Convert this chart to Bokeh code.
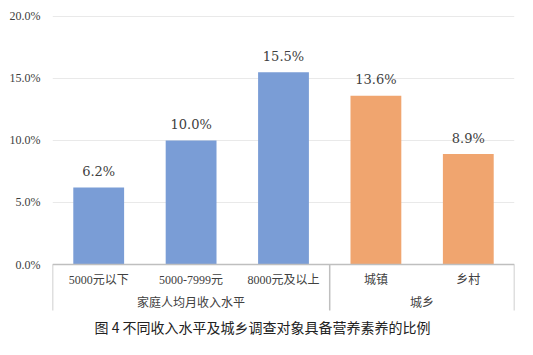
from bokeh.plotting import figure
from bokeh.models import ColumnDataSource, Range1d, FixedTicker, PrintfTickFormatter
from bokeh.core.properties import value
from bokeh.embed import file_html
from bokeh.resources import INLINE

# Data
categories = ["5000元以下", "5000-7999元", "8000元及以上", "城镇", "乡村"]
values = [6.2, 10.0, 15.5, 13.6, 8.9]
groups = ["家庭人均月收入水平", "城乡"]
group_sizes = [3, 2]
colors_by_group = ["#7a9dd6", "#f0a56f"]
y_ticks = [0, 5, 10, 15, 20]
caption = "图 4  不同收入水平及城乡调查对象具备营养素养的比例"

SERIF = "'Liberation Serif', 'Noto Sans CJK SC'"
TXT = "#404040"

xs = [i + 0.5 for i in range(len(categories))]
cols = []
for g, n in enumerate(group_sizes):
    cols += [colors_by_group[g]] * n
labels = ["%.1f%%" % v for v in values]
src = ColumnDataSource(dict(x=xs, top=values, color=cols, label=labels, cat=categories))

p = figure(width=524, height=347, output_backend="svg", toolbar_location=None,
           x_range=Range1d(0, len(categories)), y_range=Range1d(-6.53, 20.48),
           min_border_left=52, min_border_right=10, min_border_top=10, min_border_bottom=2)
p.outline_line_color = None
p.xaxis.visible = False
p.xgrid.grid_line_color = None
p.ygrid.grid_line_color = "#e9e9e9"
p.ygrid.grid_line_width = 1
p.yaxis.ticker = FixedTicker(ticks=y_ticks)
p.yaxis.formatter = PrintfTickFormatter(format="%.1f%%")
p.yaxis.axis_line_color = None
p.yaxis.major_tick_line_color = None
p.yaxis.minor_tick_line_color = None
p.yaxis.major_label_standoff = 6
p.yaxis.major_label_text_font = "Liberation Serif"
p.yaxis.major_label_text_font_size = "12px"
p.yaxis.major_label_text_color = TXT

p.vbar(x="x", top="top", width=0.55, bottom=0, color="color", line_color=None, source=src)
p.text(x="x", y="top", text="label", source=src, y_offset=-16,
       text_align="center", text_baseline="middle",
       text_font=value("DejaVu Serif"), text_font_size="13px", text_color=TXT)

# category axis line and labels
p.segment(x0=[0], y0=[0], x1=[len(categories)], y1=[0], line_color="#bfbfbf", line_width=1.5)
p.text(x="x", y=-1.21, text="cat", source=src, text_align="center", text_baseline="middle",
       text_font=value(SERIF), text_font_size="12px", text_color=TXT)

# group separators and group labels
bounds = [0]
for n in group_sizes:
    bounds.append(bounds[-1] + n)
p.segment(x0=bounds, y0=[0] * len(bounds), x1=bounds, y1=[-3.71] * len(bounds),
          line_color="#bfbfbf", line_width=1.5)
gx = [(bounds[i] + bounds[i + 1]) / 2 for i in range(len(groups))]
p.text(x=gx, y=[-2.98] * len(groups), text=groups, text_align="center", text_baseline="middle",
       text_font=value("Noto Sans CJK SC"), text_font_size="12px", text_color=TXT)

# caption
p.text(x=[2.29], y=[-5.0], text=[caption], text_align="center", text_baseline="middle",
       text_font=value("Noto Sans CJK SC"), text_font_size="14px", text_color="#222222")

open("out.html", "w").write(file_html(p, INLINE))
